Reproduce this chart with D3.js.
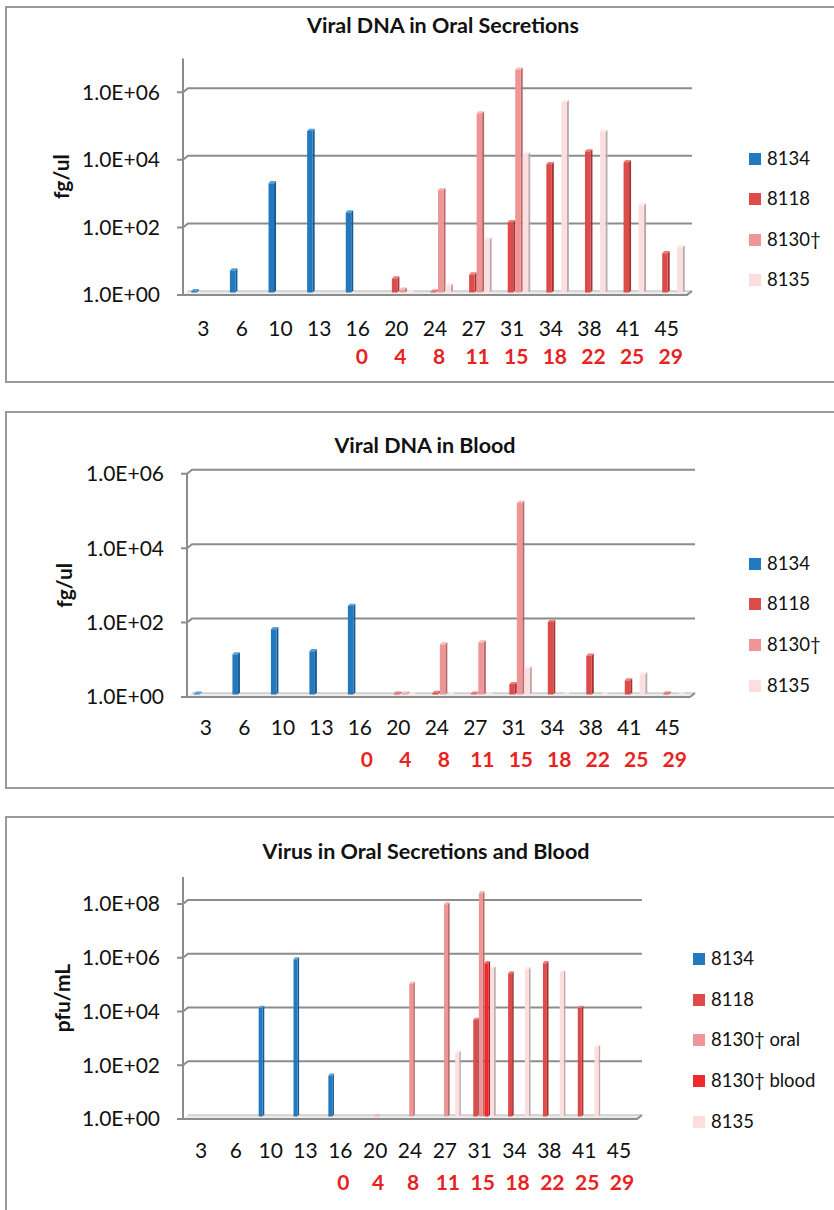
<!DOCTYPE html>
<html><head><meta charset="utf-8">
<script src="https://cdn.jsdelivr.net/npm/d3@7"></script>
<style>
body{margin:0;background:#fff;}
svg{display:block;font-family:Lato,"Noto Sans",sans-serif;}
</style></head>
<body>
<svg id="c" width="834" height="1210"></svg>
<script>
// ---------- data ----------
const days = ["3","6","10","13","16","20","24","27","31","34","38","41","45"];
const dpiLabels = ["","","","","0","4","8","11","15","18","22","25","29"];

const seriesNames4 = ["8134","8118","8130†","8135"];
const seriesNames5 = ["8134","8118","8130† oral","8130† blood","8135"];

// Viral DNA in oral secretions (fg/ul)
const oral8134 = [1.1, 4.5, 1700, 60000, 235, null, null, null, null, null, null, null, null];
const oral8118 = [null, null, null, null, null, 2.6, 1.05, 3.4, 120, 6300, 15000, 7200, 14.5];
const oral8130 = [null, null, null, null, null, 1.2, 1070, 200000, 3900000, null, null, null, null];
const oral8135 = [null, null, null, null, null, 1.0, 1.6, 37, 12300, 430000, 56000, 380, 22];

// Viral DNA in blood (fg/ul)
const blood8134 = [1.05, 12, 57, 14.5, 240, null, null, null, null, null, null, null, null];
const blood8118 = [null, null, null, null, null, 1.05, 1.1, 1.05, 1.9, 89, 11, 2.4, 1.05];
const blood8130 = [null, null, null, null, null, 1.05, 22, 25, 140000, null, null, null, null];
const blood8135 = [null, null, null, null, null, 1.0, 1.0, 1.0, 5, 1.0, 1.0, 3.5, 1.0];

// Virus in oral secretions and blood (pfu/mL)
const virus8134 = [null, null, 11000, 700000, 33, null, null, null, null, null, null, null, null];
const virus8118 = [null, null, null, null, null, null, null, null, 3900, 210000, 500000, 11000, null];
const virus8130oral = [null, null, null, null, null, 1.05, 85000, 78000000, 200000000, null, null, null, null];
const virus8130blood = [null, null, null, null, null, null, null, null, 500000, null, null, null, null];
const virus8135 = [null, null, null, null, null, null, null, 235, 330000, 300000, 230000, 390, null];

const tickVals6 = [1, 1e2, 1e4, 1e6];
const tickVals8 = [1, 1e2, 1e4, 1e6, 1e8];

// ---------- styles ----------
const palette = {
  "8134":        {front:"#2279c0", side:"#175a91", top:"#5a9fd6"},
  "8118":        {front:"#dd4b4b", side:"#a23434", top:"#ea7c7c"},
  "8130†":       {front:"#f09595", side:"#b46868", top:"#f6b8b8"},
  "8130† oral":  {front:"#f09595", side:"#b46868", top:"#f6b8b8"},
  "8130† blood": {front:"#ee2a2a", side:"#ad1c1c", top:"#f46a6a"},
  "8135":        {front:"#fddede", side:"#b9a9a9", top:"#fdeaea"}
};

const svg = d3.select("#c");
const fmt = v => "1.0E+" + String(Math.round(Math.log10(v))).padStart(2,"0");

function drawChart(cfg){
  const g = svg.append("g");
  // panel border
  g.append("rect").attr("x",cfg.box[0]).attr("y",cfg.box[1]).attr("width",cfg.box[2]).attr("height",cfg.box[3])
    .attr("fill","none").attr("stroke","#9a9a9a").attr("stroke-width",2);
  // title
  g.append("text").attr("x",cfg.titleX).attr("y",cfg.titleY).attr("text-anchor","middle")
    .attr("font-weight","bold").attr("font-size",21.5).attr("fill","#111").text(cfg.title);

  const x0 = d3.scaleBand().domain(days).range(cfg.band);
  const y = d3.scaleLog().domain([1,cfg.max]).range([cfg.base, cfg.top]);
  const yb = d3.scaleLog().domain([1,cfg.max]).range([cfg.base-2.5, cfg.top-2.5]);
  const x1 = d3.scaleBand().domain(cfg.names).range([cfg.group[0], cfg.group[1]]);
  const dx = 5, dy = 4;
  const ax = cfg.axisX, rx = cfg.plotRight;
  const grid = "#8c8c8c";

  // floor
  const b = y(1);
  g.append("path").attr("d",`M${ax},${b}L${ax+dx},${b-dy}L${rx+dx},${b-dy}L${rx},${b}Z`)
    .attr("fill","#ececec").attr("stroke","none");
  g.append("line").attr("x1",ax+dx).attr("x2",rx+dx).attr("y1",b-dy).attr("y2",b-dy).attr("stroke","#b5b5b5").attr("stroke-width",1);
  g.append("path").attr("d",`M${ax-6},${b}L${rx},${b}L${rx+dx},${b-dy}`).attr("fill","none").attr("stroke",grid).attr("stroke-width",2);

  // gridlines on back wall + ticks
  cfg.ticks.forEach(t=>{
    const yy = y(t);
    if(t!==1){
      g.append("path").attr("d",`M${ax-6},${yy}L${ax},${yy}L${ax+dx},${yy-dy}L${rx+dx},${yy-dy}`)
        .attr("fill","none").attr("stroke",grid).attr("stroke-width",2);
    }
    g.append("text").attr("x",ax-23).attr("y",yy).attr("dy","0.35em").attr("text-anchor","end")
      .attr("font-size",21).attr("fill","#111").text(fmt(t));
  });
  // y axis line
  g.append("line").attr("x1",ax).attr("x2",ax).attr("y1",cfg.top).attr("y2",b).attr("stroke",grid).attr("stroke-width",2);

  // y axis title
  g.append("text").attr("transform",`translate(${cfg.yTitleX},${(cfg.top+b)/2}) rotate(-90)`)
    .attr("text-anchor","middle").attr("dy","0.35em").attr("font-weight","bold").attr("font-size",21)
    .attr("fill","#111").text(cfg.yTitle);

  // bars
  const cap = 2.2;
  days.forEach((d,i)=>{
    const cx = x0(d) + x0.bandwidth()/2;
    cfg.names.forEach((s,k)=>{
      const v = cfg.values[k][i];
      if(v==null) return;
      const col = palette[s];
      const xs = cx + x1(s);
      const fw = x1.bandwidth() - cfg.sideW;
      const yt = yb(v), y0 = yb(1);
      g.append("path").attr("d",`M${xs+fw},${yt}L${xs+fw+cfg.sideW},${yt-cap}L${xs+fw+cfg.sideW},${y0-cap}L${xs+fw},${y0}Z`).attr("fill",col.side);
      g.append("path").attr("d",`M${xs},${yt}L${xs+cfg.sideW},${yt-cap}L${xs+fw+cfg.sideW},${yt-cap}L${xs+fw},${yt}Z`).attr("fill",col.top);
      g.append("rect").attr("x",xs).attr("y",yt).attr("width",fw).attr("height",Math.max(0,y0-yt)).attr("fill",col.front);
    });
  });

  // x labels
  days.forEach((d,i)=>{
    const cx = x0(d) + x0.bandwidth()/2;
    g.append("text").attr("x",cx).attr("y",cfg.xLabY).attr("dy","0.35em").attr("text-anchor","middle")
      .attr("font-size",21).attr("fill","#111").text(d);
    if(dpiLabels[i]!==""){
      g.append("text").attr("x",cx+cfg.redOff).attr("y",cfg.redY).attr("dy","0.35em").attr("text-anchor","middle")
        .attr("font-size",21).attr("font-weight","bold").attr("fill","#e8231f").text(dpiLabels[i]);
    }
  });

  // legend
  cfg.names.forEach((s,k)=>{
    const yy = cfg.legY[k];
    g.append("rect").attr("x",cfg.legX).attr("y",yy-6).attr("width",12).attr("height",12).attr("fill",palette[s].front);
    g.append("text").attr("x",cfg.legX+18).attr("y",yy).attr("dy","0.35em").attr("font-size",18.5).attr("fill","#111").text(s);
  });
}

drawChart({
  box:[6,7,840,375], title:"Viral DNA in Oral Secretions", titleX:443, titleY:33,
  band:[184,686], axisX:183, plotRight:687, base:295, top:58.4, max:1e7, ticks:tickVals6,
  names:seriesNames4, values:[oral8134, oral8118, oral8130, oral8135], group:[-12,18], sideW:2,
  yTitle:"fg/ul", yTitleX:62, xLabY:328.5, redY:357, redOff:4,
  legX:749, legY:[159,199,240,280]
});
drawChart({
  box:[6,412,840,376], title:"Viral DNA in Blood", titleX:425, titleY:453,
  band:[186.7,687], axisX:187, plotRight:690, base:697, top:473.8, max:1e6, ticks:tickVals6,
  names:seriesNames4, values:[blood8134, blood8118, blood8130, blood8135], group:[-12,18], sideW:2,
  yTitle:"fg/ul", yTitleX:65, xLabY:728, redY:760, redOff:7,
  legX:749, legY:[564,604,645,686]
});
drawChart({
  box:[6,817,840,420], title:"Virus in Oral Secretions and Blood", titleX:426, titleY:859,
  band:[183.6,636.4], axisX:183, plotRight:637, base:1119, top:877, max:1e9, ticks:tickVals8,
  names:seriesNames5, values:[virus8134, virus8118, virus8130oral, virus8130blood, virus8135], group:[-12,16], sideW:1.6,
  yTitle:"pfu/mL", yTitleX:63, xLabY:1151, redY:1183, redOff:3,
  legX:693, legY:[959,1000,1040,1081,1122]
});
</script>
</body></html>
